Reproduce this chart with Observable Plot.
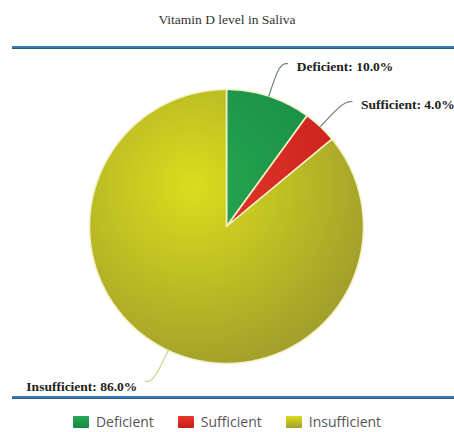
<!DOCTYPE html>
<html><head><meta charset="utf-8">
<script src="https://cdn.jsdelivr.net/npm/d3@7"></script>
<script src="https://cdn.jsdelivr.net/npm/@observablehq/plot@0.6"></script>
<style>
body{margin:0;background:#fff;width:454px;height:432px;overflow:hidden}
#title{height:46px;position:relative;font-family:"Liberation Serif",serif;font-size:13.5px;color:#333}
#title span{position:absolute;top:12px;left:0;width:100%;text-align:center;line-height:16px}
.rule{margin-left:12px;height:2px;background:#3a78b6;border-bottom:0.5px solid #2a5a8a}
#legend{display:flex;justify-content:center;align-items:center;padding-top:15px;font-family:"Open Sans",sans-serif;font-size:14px;color:#555;line-height:16px}
#legend .item{display:flex;align-items:center;margin:0 12px}
#legend .sw{width:16px;height:12px;margin-right:7px;border-radius:1px}
</style></head>
<body>
<div id="title"><span></span></div>
<div class="rule"></div>
<div id="chart"></div>
<div class="rule"></div>
<div id="legend"></div>
<script>
const title = "Vitamin D level in Saliva";
const categories = ["Deficient", "Sufficient", "Insufficient"];
const values = [10.0, 4.0, 86.0];

const gradStops = [["#27a853", "#178843"], ["#e8382c", "#c61f1b"], ["#dadd1c", "#a3a02b"]];
const leaderColors = ["#6b8a70", "#8c8484", "#cfd08c"];

document.querySelector("#title span").textContent = title;

const arcs = d3.pie().sort(null).value((d, i) => values[i])(categories);

// slice outlines in unit-circle coordinates (angle clockwise from 12 o'clock)
const slicePts = [];
arcs.forEach((a) => {
  const c = a.data;
  slicePts.push({k: c, x: 0, y: 0});
  const n = Math.max(2, Math.ceil((a.endAngle - a.startAngle) / 0.01));
  for (let j = 0; j <= n; j++) {
    const t = a.startAngle + (a.endAngle - a.startAngle) * j / n;
    slicePts.push({k: c, x: Math.sin(t), y: Math.cos(t)});
  }
  slicePts.push({k: c, x: 0, y: 0});
});

// leaders and labels
const leaderPts = [];
const labels = [];
arcs.forEach((a, i) => {
  const c = a.data;
  const m = (a.startAngle + a.endAngle) / 2;
  const s = Math.sin(m), co = Math.cos(m);
  const side = s >= 0 ? 1 : -1;
  const ex = 1.25 * s, ey = 1.25 * co;
  leaderPts.push({k: c, x: s, y: co});
  leaderPts.push({k: c, x: ex, y: ey});
  leaderPts.push({k: c, x: ex + side * 0.06, y: ey});
  labels.push({k: c, x: ex + side * 0.06, y: ey, side, text: `${c}: ${values[i].toFixed(1)}%`});
});

const plot = Plot.plot({
  width: 454,
  height: 347,
  marginLeft: 89,
  marginRight: 91,
  marginTop: 40,
  marginBottom: 33,
  x: {domain: [-1, 1], axis: null},
  y: {domain: [-1, 1], axis: null},
  color: {domain: categories, range: leaderColors},
  style: {fontFamily: "Liberation Serif, serif", fontSize: "13.5px", background: "white"},
  marks: [
    ...categories.map((c, i) => Plot.line(slicePts.filter(p => p.k === c), {
      x: "x", y: "y", fill: `url(#grad-${i})`, stroke: "#f4f0c8", strokeWidth: 1.6, strokeLinejoin: "round"
    })),
    Plot.line(leaderPts, {x: "x", y: "y", z: "k", stroke: "k", strokeWidth: 1.2, curve: "basis"}),
    Plot.text(labels.filter(d => d.side > 0), {x: "x", y: "y", text: "text", textAnchor: "start", dx: 9, dy: 3, fontWeight: "bold", fill: "#222"}),
    Plot.text(labels.filter(d => d.side < 0), {x: "x", y: "y", text: "text", textAnchor: "end", dx: -8, dy: 5, fontWeight: "bold", fill: "#222"})
  ]
});

// radial gradients placed from the plot scales
const sx = plot.scale("x"), sy = plot.scale("y");
const cx = sx.apply(-0.25), cy = sy.apply(0.3);
const r = Math.abs(sx.apply(1) - sx.apply(0)) * 1.35;
const defs = d3.select(plot).insert("defs", ":first-child");
gradStops.forEach((st, i) => {
  const g = defs.append("radialGradient").attr("id", `grad-${i}`)
    .attr("gradientUnits", "userSpaceOnUse").attr("cx", cx).attr("cy", cy).attr("r", r);
  g.append("stop").attr("offset", "0%").attr("stop-color", st[0]);
  g.append("stop").attr("offset", "100%").attr("stop-color", st[1]);
});
document.getElementById("chart").appendChild(plot);

// legend
const legend = document.getElementById("legend");
categories.forEach((c, i) => {
  const item = document.createElement("div");
  item.className = "item";
  const sw = document.createElement("div");
  sw.className = "sw";
  sw.style.background = `linear-gradient(${gradStops[i][0]}, ${gradStops[i][1]})`;
  const t = document.createElement("span");
  t.textContent = c;
  item.appendChild(sw); item.appendChild(t);
  legend.appendChild(item);
});
</script>
</body></html>
